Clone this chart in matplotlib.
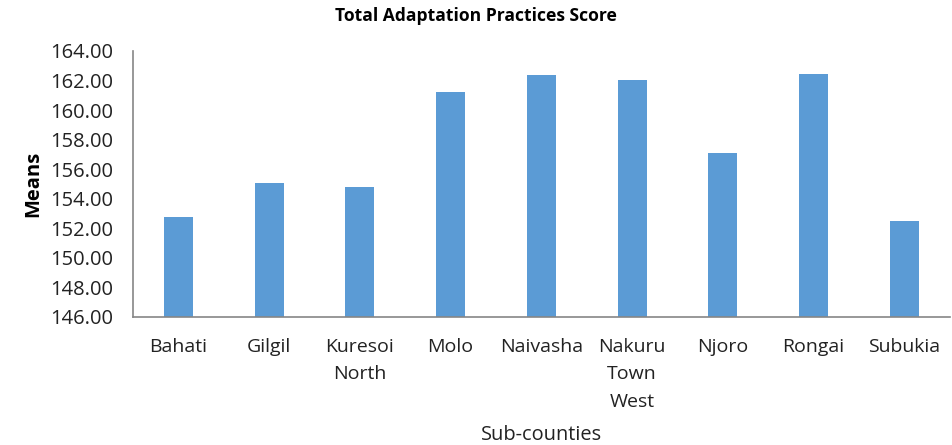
import matplotlib.pyplot as plt
import numpy as np

plt.rcParams['font.family'] = ['Open Sans', 'DejaVu Sans']

sub_counties = ["Bahati", "Gilgil", "Kuresoi\nNorth", "Molo", "Naivasha",
                "Nakuru\nTown\nWest", "Njoro", "Rongai", "Subukia"]
means = [152.78, 155.08, 154.81, 161.20, 162.37, 162.01, 157.07, 162.42, 152.48]
y_ticks = np.arange(146, 165, 2)

fig = plt.figure(figsize=(9.52, 4.45), dpi=100)
ax = fig.add_axes([0.1397, 0.2883, 0.858, 0.5971])

x = np.arange(len(sub_counties))
ax.bar(x, means, width=0.32, color="#5b9bd5")
ax.set_xlim(-0.5, len(sub_counties) - 0.5)
ax.set_ylim(146, 164)
ax.set_yticks(y_ticks)
ax.set_yticklabels([f"{v:.2f}" for v in y_ticks], fontsize=14.5, color="#222222")
ax.set_xticks(x)
ax.set_xticklabels(sub_counties, fontsize=14, color="#222222", linespacing=1.68, va="top")
ax.tick_params(length=0)
ax.tick_params(axis="y", pad=14)
ax.tick_params(axis="x", pad=15)

for side in ["top", "right"]:
    ax.spines[side].set_visible(False)
for side in ["left", "bottom"]:
    ax.spines[side].set_color("#868686")
    ax.spines[side].set_linewidth(1.2)

ax.set_ylabel("Means", fontsize=14.5, fontweight="bold", labelpad=5)
fig.text(0.569, 0.012, "Sub-counties", ha="center", fontsize=14.4, color="#222222")
fig.text(0.5, 0.965, "Total Adaptation Practices Score", ha="center", va="center",
         fontsize=12.6, fontweight="bold")

fig.savefig("out.png", dpi=100)
